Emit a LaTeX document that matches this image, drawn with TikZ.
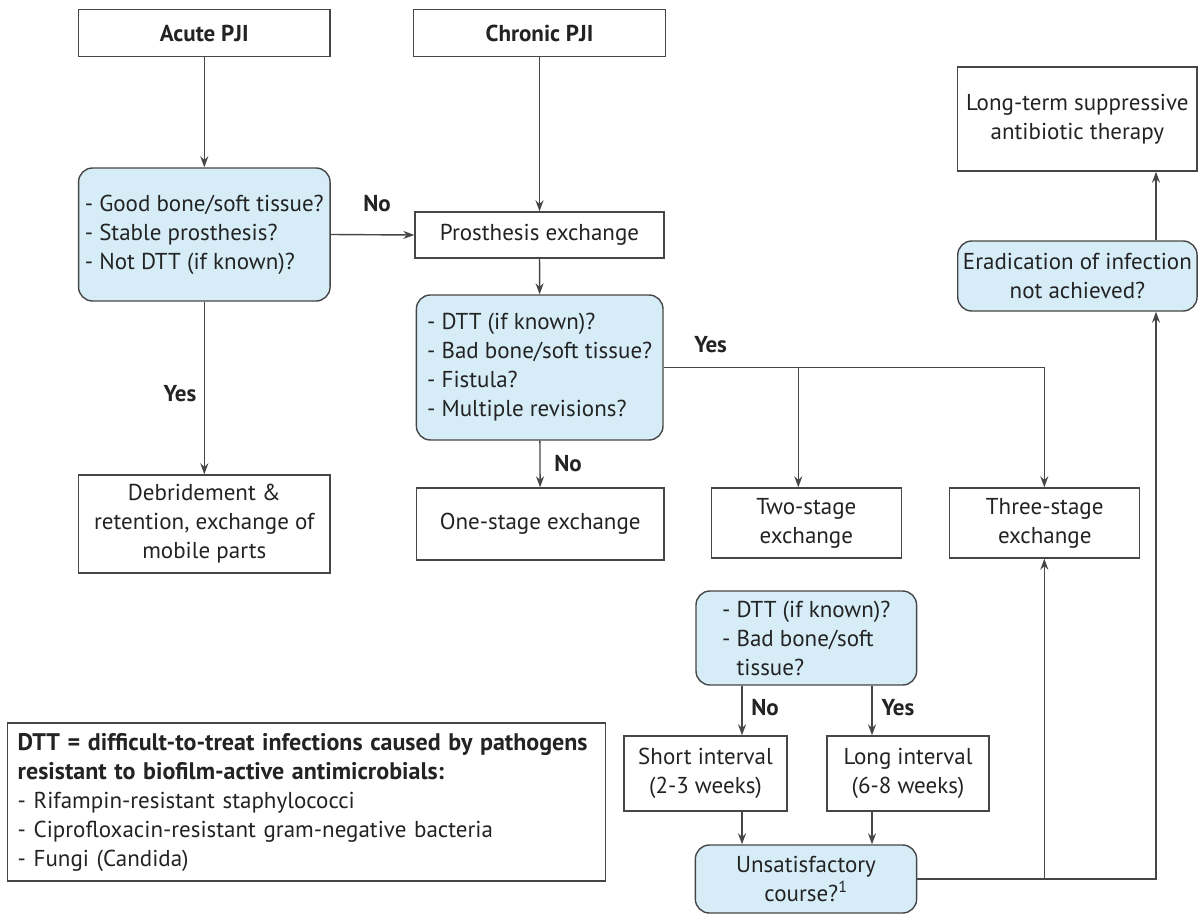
\documentclass[tikz,border=0pt]{standalone}
\usepackage{fontspec}
\setmainfont{PT Sans}
\usetikzlibrary{arrows.meta,calc}
\definecolor{qblue}{RGB}{214,237,248}
\definecolor{lineg}{RGB}{70,70,70}
\definecolor{txt}{RGB}{35,35,35}
\begin{document}
\begin{tikzpicture}[x=1pt,y=-1pt,
  every node/.style={font=\fontsize{23}{29}\selectfont, text=txt},
  box/.style={draw=lineg, line width=1.4pt, fill=white, inner sep=0pt, align=center},
  qbox/.style={box, fill=qblue, rounded corners=14pt, align=left},
  arr/.style={draw=lineg, line width=1.4pt, -{Stealth[length=11pt,width=8pt]}},
  lab/.style={font=\fontsize{23}{27}\selectfont\bfseries, inner sep=0pt}]
\useasboundingbox (0,0) rectangle (1198,915);

% column coordinates
\coordinate (cTwo) at (798.3,0);
\coordinate (cThree) at (1044.3,0);
\coordinate (cE) at (1156,0);
\coordinate (cS) at (742,0);
\coordinate (cL) at (872,0);

% nodes
\node[box, minimum width=251.5pt, minimum height=47.4pt] (acute) at (204.3,33) {\bfseries Acute PJI};
\node[box, minimum width=252.3pt, minimum height=47.4pt] (chronic) at (539.5,33) {\bfseries Chronic PJI};

\node[qbox, minimum width=251.5pt, minimum height=133pt] (dec1) at (204.3,234.5)
  {- Good bone/soft tissue?\\- Stable prosthesis?\\- Not DTT (if known)?};
\node[box, minimum width=249pt, minimum height=46pt] (prosth) at (539.5,235) {Prosthesis exchange};
\node[box, minimum width=251.5pt, minimum height=98pt] (debr) at (204.3,524)
  {Debridement \&\\retention, exchange of\\mobile parts};
\node[qbox, minimum width=246.6pt, minimum height=145pt] (dec2) at (539.7,367.5)
  {- DTT (if known)?\\- Bad bone/soft tissue?\\- Fistula?\\- Multiple revisions?};
\node[box, minimum width=247.6pt, minimum height=72pt] (one) at (540.2,524) {One-stage exchange};
\node[box, minimum width=190pt, minimum height=70pt] (two) at (806.3,523) {Two-stage\\exchange};
\node[box, minimum width=190pt, minimum height=70pt] (three) at (1044.7,523) {Three-stage\\exchange};
\node[box, minimum width=239.3pt, minimum height=104pt] (lt) at (1077.4,119)
  {Long-term suppressive\\antibiotic therapy};
\node[box, fill=qblue, rounded corners=14pt, minimum width=239.3pt, minimum height=70pt] (erad) at (1077.4,276)
  {Eradication of infection\\not achieved?};
\node[qbox, minimum width=220.6pt, minimum height=94pt] (dec3) at (806.3,638)
  {- DTT (if known)?\\- Bad bone/soft\\\hphantom{- }tissue?};
\node[box, minimum width=163pt, minimum height=75pt] (short) at (705.5,773.5) {Short interval\\(2-3 weeks)};
\node[box, minimum width=162pt, minimum height=75pt] (long) at (908,773.5) {Long interval\\(6-8 weeks)};
\node[box, fill=qblue, rounded corners=14pt, minimum width=221.3pt, minimum height=68pt] (unsat) at (806,879)
  {Unsatisfactory\\course?\textsuperscript{1}};
\node[box, align=left, minimum width=598pt, minimum height=158pt, text width=578pt, inner xsep=10pt] (legend) at (306.7,802)
  {{\fontsize{24}{29}\selectfont\bfseries DTT = difficult-to-treat infections caused by pathogens}\\
   {\fontsize{24}{29}\selectfont\bfseries resistant to biofilm-active antimicrobials:}\\
   - Rifampin-resistant staphylococci\\
   - Ciprofloxacin-resistant gram-negative bacteria\\
   - Fungi (Candida)};

% labels
\node[lab] (lNo1) at (377,204) {No};
\node[lab] (lYes1) at (180,394) {Yes};
\node[lab] (lNo2) at (568,464) {No};
\node[lab] (lYes2) at (710.6,345) {Yes};
\node[lab] (lNo3) at (765,708) {No};
\node[lab] (lYes3) at (898,708) {Yes};

% connectors
\draw[arr] (acute) -- (dec1);
\draw[arr] (chronic) -- (prosth);
\draw[arr] (dec1.east) -- (prosth.west);
\draw[arr] (prosth) -- (dec2);
\draw[arr] (dec1) -- (debr);
\draw[arr] (dec2) -- (one);
\draw[arr] (dec2.east) -- (dec2.east -| cThree) -- (three.north -| cThree);
\draw[arr] (dec2.east -| cTwo) -- (two.north -| cTwo);
\draw[arr] (dec3.south -| cS) -- (short.north -| cS);
\draw[arr] (dec3.south -| cL) -- (long.north -| cL);
\draw[arr] (short.south -| cS) -- (unsat.north -| cS);
\draw[arr] (long.south -| cL) -- (unsat.north -| cL);
\draw[arr] (unsat.east) -- (unsat.east -| cE) -- (erad.south -| cE);
\draw[arr] (unsat.east -| cThree) -- (three.south -| cThree);
\draw[arr] (erad.north -| cE) -- (lt.south -| cE);
\end{tikzpicture}
\end{document}
